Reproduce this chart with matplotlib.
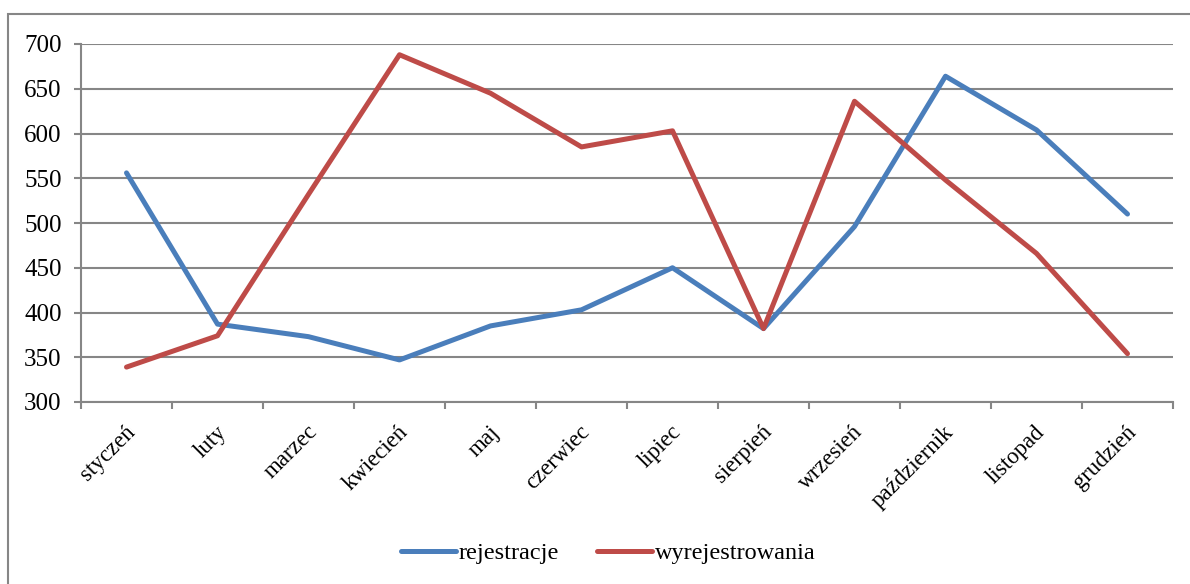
import matplotlib.pyplot as plt
import matplotlib.transforms as mtransforms
from matplotlib.patches import Rectangle
from matplotlib.lines import Line2D

plt.rcParams['font.family'] = ['Liberation Serif', 'DejaVu Serif']

months = ['styczeń', 'luty', 'marzec', 'kwiecień', 'maj', 'czerwiec',
          'lipiec', 'sierpień', 'wrzesień', 'październik', 'listopad', 'grudzień']
rejestracje = [556, 387, 373, 347, 385, 403, 450, 382, 496, 664, 604, 510]
wyrejestrowania = [339, 374, 532, 688, 645, 585, 603, 382, 636, 548, 466, 354]

blue = '#4A7EBB'
red = '#BE4B48'
grid_c = '#868686'

W, H = 1190, 584
fig = plt.figure(figsize=(W / 100, H / 100), dpi=100)
# axes in pixel coords: left 81, right 1173, top 44, bottom 402
ax = fig.add_axes([81 / W, 1 - 402 / H, (1173 - 81) / W, (402 - 44) / H])

x = list(range(len(months)))
ax.plot(x, rejestracje, color=blue, lw=3.6, solid_capstyle='round', solid_joinstyle='round')
ax.plot(x, wyrejestrowania, color=red, lw=3.6, solid_capstyle='round', solid_joinstyle='round')

ax.set_xlim(-0.5, len(months) - 0.5)
ax.set_ylim(300, 700)
ax.set_yticks(range(300, 701, 50))
ax.yaxis.grid(True, color=grid_c, lw=1.5)
ax.set_axisbelow(True)

# major ticks between categories, labels on minor ticks at the centers
ax.set_xticks([i + 0.5 for i in range(-1, len(months))])
ax.set_xticklabels([])
ax.set_xticks(x, minor=True)
ax.set_xticklabels(months, minor=True, rotation=45, ha='right', va='top',
                   rotation_mode='anchor', fontsize=16.5)
ax.tick_params(axis='x', which='minor', length=0, pad=14)
ax.tick_params(axis='x', which='major', length=5, width=1.5, color=grid_c, direction='out')
ax.tick_params(axis='y', length=5, width=1.5, color=grid_c, labelsize=18, pad=9)

for s in ['top', 'right']:
    ax.spines[s].set_visible(False)
for s in ['left', 'bottom']:
    ax.spines[s].set_color(grid_c)
    ax.spines[s].set_linewidth(1.5)

off = mtransforms.ScaledTranslation(-2 / 100, 0, fig.dpi_scale_trans)
for lab in ax.get_xticklabels(minor=True):
    lab.set_transform(lab.get_transform() + off)

handles = [Line2D([], [], color=blue, lw=3.6, solid_capstyle='round'),
           Line2D([], [], color=red, lw=3.6, solid_capstyle='round')]
fig.legend(handles, ['rejestracje', 'wyrejestrowania'], loc='center',
           bbox_to_anchor=(608 / W, 1 - 553 / H), ncol=2, frameon=False,
           fontsize=17.5, handlelength=2.26, handletextpad=0.12, columnspacing=1.56)

# outer chart border
fig.patches.append(Rectangle((8 / W, -0.05), 1.2, 1 - 14 / H + 0.05,
                             transform=fig.transFigure, fill=False,
                             edgecolor=grid_c, lw=1.5))

fig.savefig('out.png', dpi=100)
